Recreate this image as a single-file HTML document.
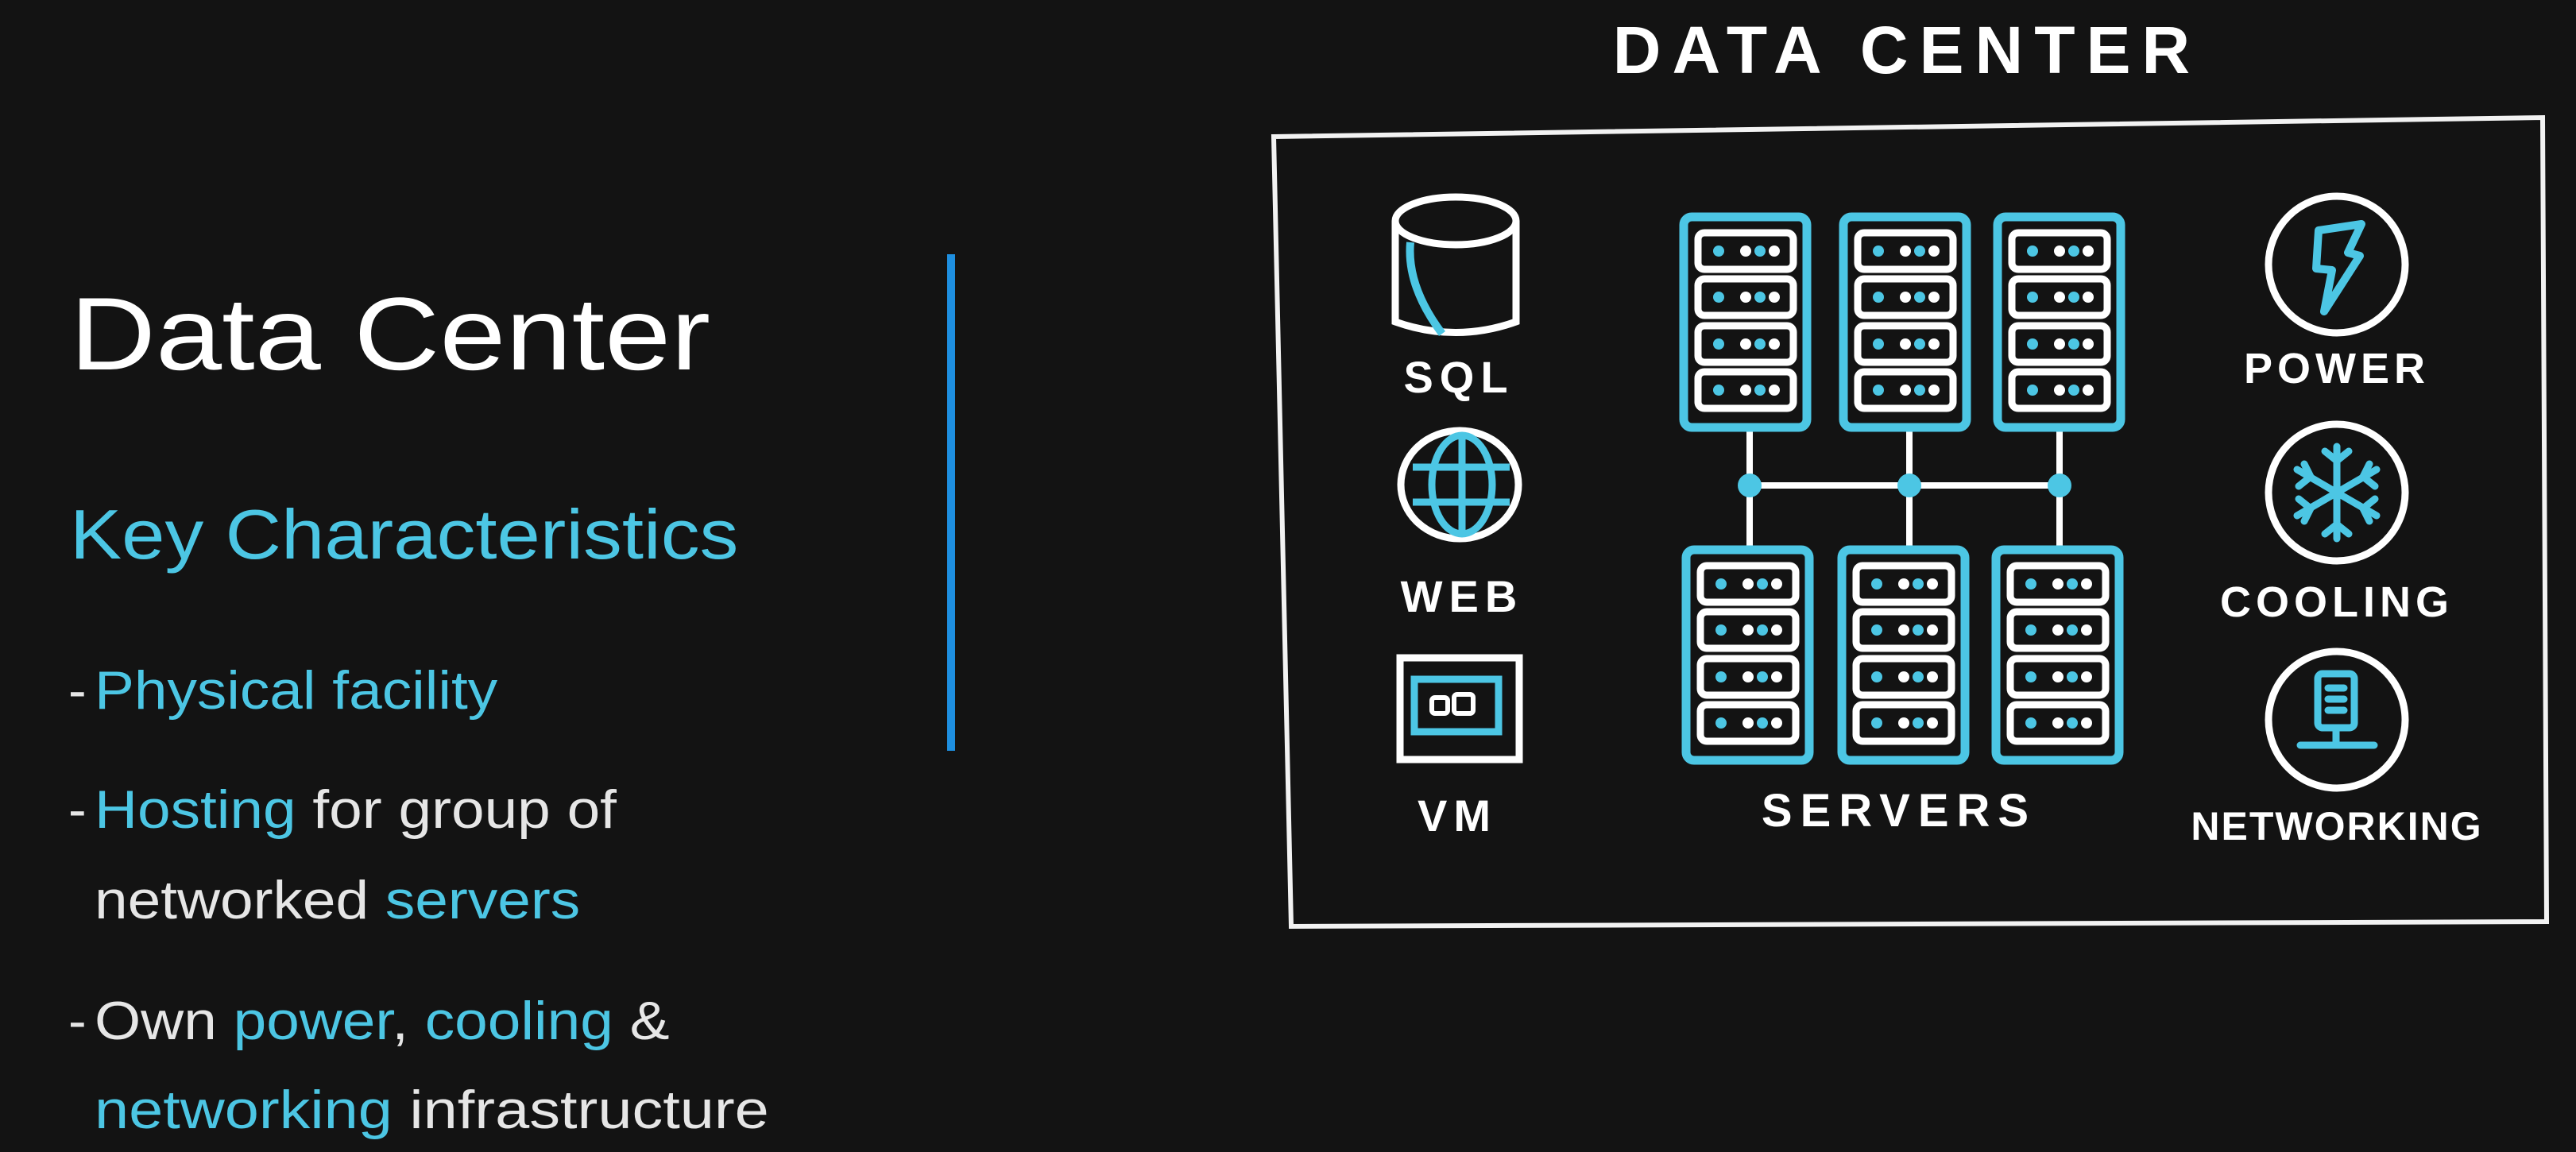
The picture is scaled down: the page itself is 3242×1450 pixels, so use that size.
<!DOCTYPE html>
<html><head><meta charset="utf-8"><style>
html,body{margin:0;padding:0;background:#131313;}
body{width:3242px;height:1450px;position:relative;overflow:hidden;font-family:"Liberation Sans",sans-serif;}
.t{position:absolute;white-space:nowrap;transform-origin:0 0;}
.c{color:#4cc6e4;}
.w{color:#e6e6e6;}
</style></head><body>
<div class="t" style="left:88px;top:345px;font-size:130px;color:#fff;transform:scaleX(1.15);">Data Center</div>
<div class="t c" style="left:88px;top:622px;font-size:88px;transform:scaleX(1.11);">Key Characteristics</div>
<div class="t w" style="left:86px;top:830px;font-size:68px;">-</div>
<div class="t w" style="left:86px;top:980px;font-size:68px;">-</div>
<div class="t w" style="left:86px;top:1246px;font-size:68px;">-</div>
<div class="t" style="left:119px;top:830px;font-size:68px;transform:scaleX(1.1);"><span class="c">Physical facility</span></div>
<div class="t" style="left:119px;top:980px;font-size:68px;transform:scaleX(1.1);"><span class="c">Hosting</span><span class="w"> for group of</span></div>
<div class="t" style="left:119px;top:1094px;font-size:68px;transform:scaleX(1.1);"><span class="w">networked </span><span class="c">servers</span></div>
<div class="t" style="left:119px;top:1246px;font-size:68px;transform:scaleX(1.1);"><span class="w">Own </span><span class="c">power</span><span class="w">, </span><span class="c">cooling</span><span class="w"> &amp;</span></div>
<div class="t" style="left:119px;top:1358px;font-size:68px;transform:scaleX(1.14);"><span class="c">networking</span><span class="w"> infrastructure</span></div>
<div style="position:absolute;left:1192px;top:320px;width:10px;height:625px;background:#1e8fe0;"></div>

<svg width="3242" height="1450" style="position:absolute;left:0;top:0" xmlns="http://www.w3.org/2000/svg">
<defs>
<g id="slot">
<rect x="0" y="0" width="120" height="46" rx="8" fill="none" stroke="#fff" stroke-width="9"/>
<circle cx="26" cy="23" r="7" fill="#4cc6e4"/>
<circle cx="60" cy="23" r="7" fill="#fff"/>
<circle cx="78" cy="23" r="7" fill="#4cc6e4"/>
<circle cx="96" cy="23" r="7" fill="#fff"/>
</g>
<g id="rack">
<rect x="0" y="0" width="155" height="265" rx="10" fill="none" stroke="#4cc6e4" stroke-width="11"/>
<use href="#slot" x="18" y="20"/>
<use href="#slot" x="18" y="78"/>
<use href="#slot" x="18" y="137"/>
<use href="#slot" x="18" y="195"/>
</g>
</defs>
<g font-family="Liberation Sans, sans-serif" font-weight="bold" fill="#fff" text-anchor="middle">
<text x="2400" y="92" font-size="84" letter-spacing="14">DATA CENTER</text>
<text x="1836" y="494" font-size="56" letter-spacing="8">SQL</text>
<text x="1840" y="770" font-size="56" letter-spacing="8">WEB</text>
<text x="1834" y="1046" font-size="56" letter-spacing="8">VM</text>
<text x="2390" y="1040" font-size="58" letter-spacing="10">SERVERS</text>
<text x="2941" y="482" font-size="54" letter-spacing="6">POWER</text>
<text x="2941" y="776" font-size="54" letter-spacing="6">COOLING</text>
<text x="2941" y="1057" font-size="50" letter-spacing="2">NETWORKING</text>
</g>
<polygon points="1603,172 3200,148 3205,1160 1625,1166" fill="none" stroke="#f2f2f2" stroke-width="6"/>
<g stroke="#fff" stroke-width="8" fill="none">
<line x1="2202" y1="538" x2="2202" y2="693"/>
<line x1="2403" y1="538" x2="2403" y2="693"/>
<line x1="2592" y1="538" x2="2592" y2="693"/>
<line x1="2202" y1="611" x2="2592" y2="611"/>
</g>
<g fill="#4cc6e4"><circle cx="2202" cy="611" r="15"/><circle cx="2403" cy="611" r="15"/><circle cx="2592" cy="611" r="15"/></g>
<use href="#rack" x="2119" y="273"/>
<use href="#rack" x="2320" y="273"/>
<use href="#rack" x="2514" y="273"/>
<use href="#rack" x="2122" y="692"/>
<use href="#rack" x="2318" y="692"/>
<use href="#rack" x="2512" y="692"/>
<g stroke="#fff" stroke-width="9" fill="none">
<ellipse cx="1832" cy="278" rx="76" ry="30"/>
<path d="M1756 278 V405 Q1832 432 1908 405 V278"/>
</g>
<path d="M1775 305 Q1770 360 1815 420" stroke="#4cc6e4" stroke-width="10" fill="none"/>
<ellipse cx="1837" cy="610" rx="74" ry="68" fill="none" stroke="#fff" stroke-width="9"/>
<g stroke="#4cc6e4" stroke-width="9" fill="none">
<ellipse cx="1840" cy="610" rx="38" ry="62"/>
<line x1="1840" y1="548" x2="1840" y2="672"/>
<line x1="1778" y1="588" x2="1900" y2="588"/>
<line x1="1778" y1="632" x2="1900" y2="632"/>
</g>
<rect x="1762" y="828" width="150" height="128" fill="none" stroke="#fff" stroke-width="9"/>
<rect x="1780" y="855" width="106" height="66" fill="none" stroke="#4cc6e4" stroke-width="9"/>
<rect x="1802" y="878" width="20" height="20" rx="4" fill="none" stroke="#fff" stroke-width="6"/>
<rect x="1830" y="874" width="24" height="24" rx="4" fill="none" stroke="#fff" stroke-width="6"/>
<g stroke="#fff" stroke-width="9" fill="none">
<circle cx="2941" cy="333" r="86"/>
<circle cx="2941" cy="620" r="86"/>
<circle cx="2941" cy="906" r="86"/>
</g>
<path d="M2918 290 L2972 282 L2955 318 L2970 322 L2925 392 L2935 340 L2915 338 Z" fill="none" stroke="#4cc6e4" stroke-width="10" stroke-linejoin="round"/>
<g stroke="#4cc6e4" stroke-width="9" stroke-linecap="round">
<line x1="2941" y1="562" x2="2941" y2="678"/>
<line x1="2891" y1="591" x2="2991" y2="649"/>
<line x1="2891" y1="649" x2="2991" y2="591"/>
<path d="M2926 568 L2941 580 L2956 568 M2926 672 L2941 660 L2956 672 M2893 612 L2908 600 L2900 584 M2989 628 L2974 640 L2982 656 M2893 628 L2908 640 L2900 656 M2989 612 L2974 600 L2982 584" fill="none"/>
</g>
<g stroke="#4cc6e4" stroke-width="9" fill="none" stroke-linecap="round">
<rect x="2917" y="848" width="46" height="68" rx="6"/>
<line x1="2930" y1="866" x2="2950" y2="866"/>
<line x1="2930" y1="880" x2="2950" y2="880"/>
<line x1="2930" y1="894" x2="2950" y2="894"/>
<line x1="2940" y1="916" x2="2940" y2="935"/>
<line x1="2895" y1="938" x2="2988" y2="938"/>
</g>
</svg>
</body></html>
